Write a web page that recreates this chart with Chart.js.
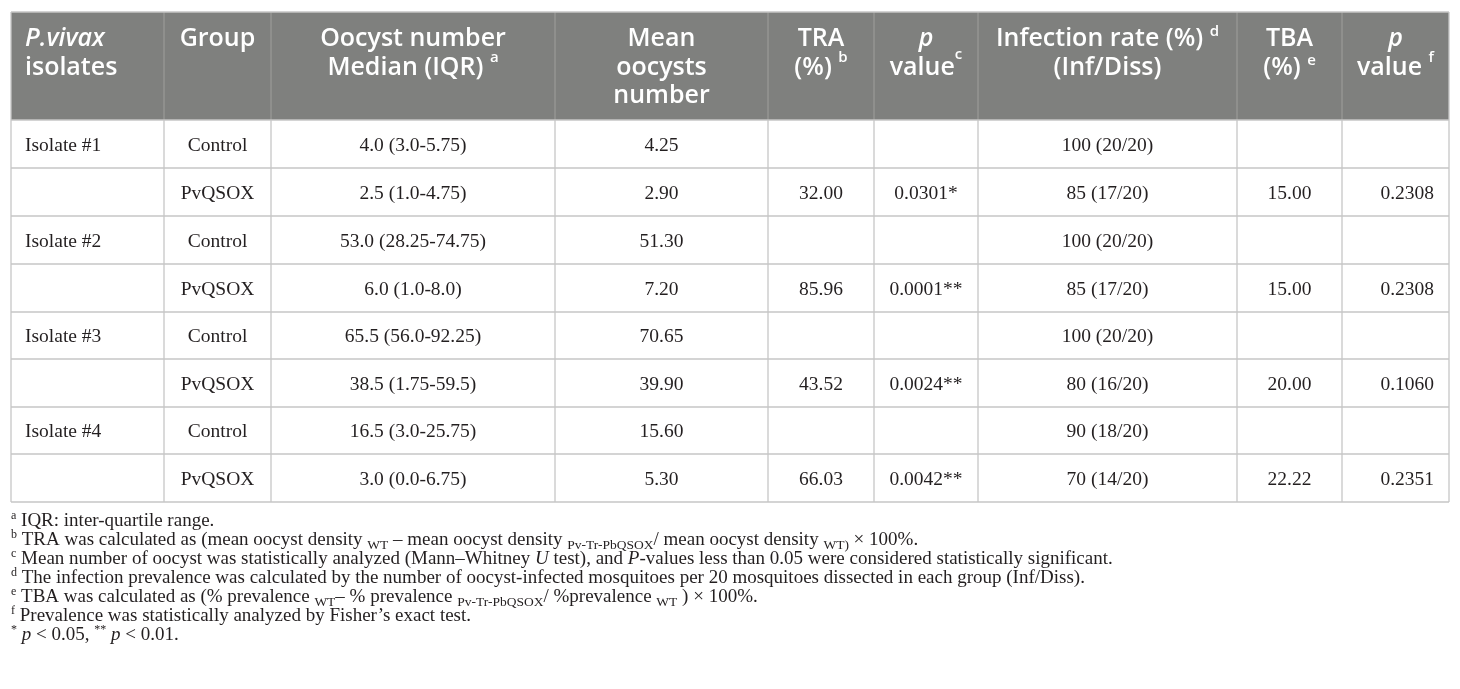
<!DOCTYPE html>
<html><head><meta charset="utf-8">
<script src="https://cdn.jsdelivr.net/npm/chart.js@4.4.1/dist/chart.umd.min.js"></script>
<style>html,body{margin:0;padding:0;background:#fff;}#wrap{width:1460px;height:689px;}</style>
</head><body><div id="wrap"><canvas id="c" width="1460" height="689"></canvas></div>
<script>
// ---- Table content (data) ----
const isolates = ["Isolate #1","","Isolate #2","","Isolate #3","","Isolate #4",""];
const groups = ["Control","PvQSOX","Control","PvQSOX","Control","PvQSOX","Control","PvQSOX"];
const oocystMedianIQR = ["4.0 (3.0-5.75)","2.5 (1.0-4.75)","53.0 (28.25-74.75)","6.0 (1.0-8.0)","65.5 (56.0-92.25)","38.5 (1.75-59.5)","16.5 (3.0-25.75)","3.0 (0.0-6.75)"];
const meanOocysts = ["4.25","2.90","51.30","7.20","70.65","39.90","15.60","5.30"];
const traPercent = ["","32.00","","85.96","","43.52","","66.03"];
const pOocyst = ["","0.0301*","","0.0001**","","0.0024**","","0.0042**"];
const infectionRate = ["100 (20/20)","85 (17/20)","100 (20/20)","85 (17/20)","100 (20/20)","80 (16/20)","90 (18/20)","70 (14/20)"];
const tbaPercent = ["","15.00","","15.00","","20.00","","22.22"];
const pPrevalence = ["","0.2308","","0.2308","","0.1060","","0.2351"];

// header labels: each column -> lines -> runs [text, style, supRaise]
const headerLabels = [
  [[["P.vivax","i"]],[["isolates",""]]],
  [[["Group",""]]],
  [[["Oocyst number",""]],[["Median (IQR) ",""],["a","sup",13]]],
  [[["Mean",""]],[["oocysts",""]],[["number",""]]],
  [[["TRA",""]],[["(%) ",""],["b","sup",13]]],
  [[["p","i"]],[["value",""],["c","sup",16]]],
  [[["Infection rate (%) ",""],["d","sup",10]],[["(Inf/Diss)",""]]],
  [[["TBA",""]],[["(%) ",""],["e","sup",10]]],
  [[["p","i"]],[["value ",""],["f","sup",13]]]
];

const footnotes = [
  [["a","sup"],[" IQR: inter-quartile range.",""]],
  [["b","sup"],[" TRA was calculated as (mean oocyst density ",""],["WT","sub"],[" \u2013 mean oocyst density ",""],["Pv-Tr-PbQSOX","sub"],["/ mean oocyst density ",""],["WT)","sub"],[" \u00d7 100%.",""]],
  [["c","sup"],[" Mean number of oocyst was statistically analyzed (Mann\u2013Whitney ",""],["U","i"],[" test), and ",""],["P","i"],["-values less than 0.05 were considered statistically significant.",""]],
  [["d","sup"],[" The infection prevalence was calculated by the number of oocyst-infected mosquitoes per 20 mosquitoes dissected in each group (Inf/Diss).",""]],
  [["e","sup"],[" TBA was calculated as (% prevalence ",""],["WT","sub"],["\u2013 % prevalence ",""],["Pv-Tr-PbQSOX","sub"],["/ %prevalence ",""],["WT","sub"],[" ) \u00d7 100%.",""]],
  [["f","sup"],[" Prevalence was statistically analyzed by Fisher\u2019s exact test.",""]],
  [["*","sup"],[" ",""],["p","i"],[" < 0.05, ",""],["**","sup"],[" ",""],["p","i"],[" < 0.01.",""]]
];

// ---- layout / style (not data) ----
const columnsData = [isolates, groups, oocystMedianIQR, meanOocysts, traPercent, pOocyst, infectionRate, tbaPercent, pPrevalence];
const layout = {
  colEdges: [11,164,271,555,768,874,978,1237,1342,1449],
  headerTop: 12, headerBottom: 120,
  rowEdges: [120,168,216,264,312,359,407,454,502],
  bodyAlign: ["left","center","center","center","center","center","center","center","right"],
  headerAlign: ["left","center","center","center","center","center","center","center","center"],
  headerBaselines: [46,75,103],
  footBaselines: [526,545,564,583,602,621,640],
  footX: 11
};
const style = {
  headerBg: "#7f807e", headerRule: "#9a9a98", grid: "#c6c6c6",
  headerFont: '"Open Sans"', headerSize: 25, headerSupSize: 15, headerWeight: 600,
  bodyFont: '"Liberation Serif"', bodySize: 19.5, footSize: 19, footSupSize: 12, footSubSize: 13.5,
  text: "#231f20"
};

function runFont(r, base){
  const st = r[1];
  const italic = st === "i" ? "italic " : "";
  let size = base.size;
  if (st === "sup") size = base.supSize;
  if (st === "sub") size = base.subSize;
  return italic + (base.weight||400) + " " + size + "px " + base.family;
}
function drawRuns(ctx, runs, x, y, align, base){
  let w = 0;
  const widths = runs.map(r => { ctx.font = runFont(r, base); const m = ctx.measureText(r[0]).width; w += m; return m; });
  let cx = align === "center" ? x - w/2 : (align === "right" ? x - w : x);
  runs.forEach((r,i) => {
    ctx.font = runFont(r, base);
    let dy = 0;
    if (r[1] === "sup") dy = -(r[2] !== undefined ? r[2] : base.supRaise);
    if (r[1] === "sub") dy = base.subDrop;
    ctx.fillText(r[0], cx, y + dy);
    cx += widths[i];
  });
}

const tablePlugin = {
  id: "tablePlugin",
  afterDraw(chart){
    const ctx = chart.ctx, xs = chart.scales.x, ys = chart.scales.y;
    const X = v => xs.getPixelForValue(v), Y = v => ys.getPixelForValue(v);
    const ce = layout.colEdges, re = layout.rowEdges;
    ctx.save();
    ctx.textBaseline = "alphabetic";
    // header background
    ctx.fillStyle = style.headerBg;
    ctx.fillRect(X(ce[0]), Y(layout.headerTop), X(ce[ce.length-1]) - X(ce[0]), Y(layout.headerBottom) - Y(layout.headerTop));
    // header vertical rules
    ctx.strokeStyle = style.headerRule; ctx.lineWidth = 1.2;
    for (let i = 1; i < ce.length-1; i++){
      ctx.beginPath(); ctx.moveTo(X(ce[i]), Y(layout.headerTop)); ctx.lineTo(X(ce[i]), Y(layout.headerBottom)); ctx.stroke();
    }
    // body grid
    ctx.strokeStyle = style.grid; ctx.lineWidth = 1.3;
    re.forEach(v => { ctx.beginPath(); ctx.moveTo(X(ce[0]), Y(v)); ctx.lineTo(X(ce[ce.length-1]), Y(v)); ctx.stroke(); });
    ce.forEach((v,i) => {
      const top = (i === 0 || i === ce.length-1) ? layout.headerTop : layout.headerBottom;
      ctx.beginPath(); ctx.moveTo(X(v), Y(top)); ctx.lineTo(X(v), Y(re[re.length-1])); ctx.stroke();
    });
    ctx.beginPath(); ctx.moveTo(X(ce[0]), Y(layout.headerTop)); ctx.lineTo(X(ce[ce.length-1]), Y(layout.headerTop)); ctx.stroke();
    // header text
    ctx.fillStyle = "#ffffff";
    const hb = {family: style.headerFont, size: style.headerSize, supSize: style.headerSupSize, weight: style.headerWeight, supRaise: 14};
    headerLabels.forEach((lines, c) => {
      const al = layout.headerAlign[c];
      const x = al === "left" ? X(ce[c]) + 14 : (X(ce[c]) + X(ce[c+1]))/2;
      lines.forEach((runs, li) => drawRuns(ctx, runs, x, Y(layout.headerBaselines[li]), al, hb));
    });
    // body text
    ctx.fillStyle = style.text;
    const bb = {family: style.bodyFont, size: style.bodySize, supSize: 13, weight: 400, supRaise: 7};
    columnsData.forEach((col, c) => {
      const al = layout.bodyAlign[c];
      col.forEach((txt, r) => {
        if (!txt) return;
        const yMid = (Y(re[r]) + Y(re[r+1]))/2 + 6.5;
        let x;
        if (al === "left") x = X(ce[c]) + 14;
        else if (al === "right") x = X(ce[c+1]) - 15;
        else x = (X(ce[c]) + X(ce[c+1]))/2;
        drawRuns(ctx, [[txt,""]], x, yMid, al, bb);
      });
    });
    // footnotes
    const fb = {family: style.bodyFont, size: style.footSize, supSize: style.footSupSize, subSize: style.footSubSize, weight: 400, supRaise: 7, subDrop: 4};
    footnotes.forEach((runs, i) => drawRuns(ctx, runs, X(layout.footX), Y(layout.footBaselines[i]), "left", fb));
    ctx.restore();
  }
};

new Chart(document.getElementById("c"), {
  type: "scatter",
  data: { datasets: [] },
  options: {
    responsive: false, animation: false, devicePixelRatio: 1,
    layout: { padding: 0 },
    plugins: { legend: { display: false }, tooltip: { enabled: false } },
    scales: {
      x: { type: "linear", min: 0, max: 1460, display: false },
      y: { type: "linear", min: 0, max: 689, reverse: true, display: false }
    }
  },
  plugins: [tablePlugin]
});
</script></body></html>
